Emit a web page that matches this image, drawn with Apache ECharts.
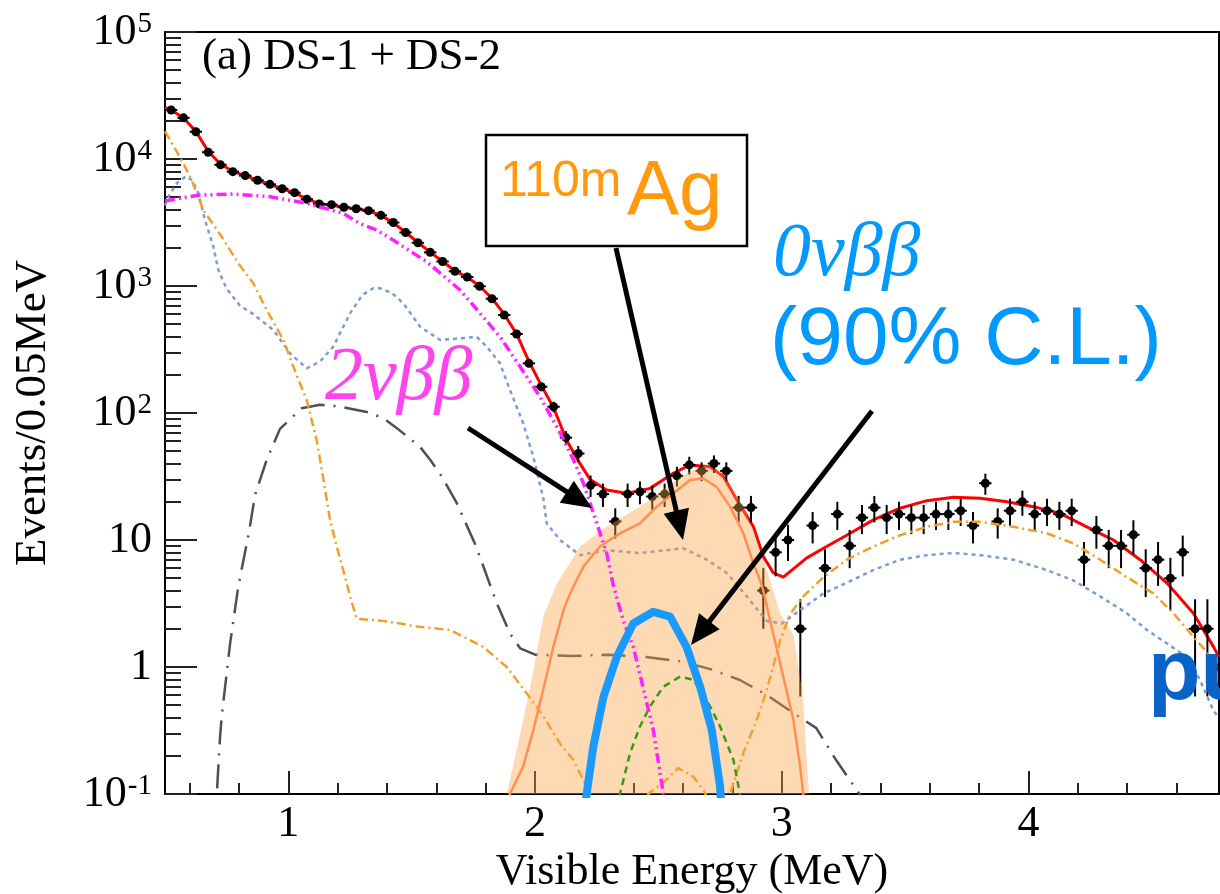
<!DOCTYPE html>
<html>
<head>
<meta charset="utf-8">
<script src="https://cdn.jsdelivr.net/npm/echarts@6/dist/echarts.min.js"></script>
<style>
  html, body { margin: 0; padding: 0; background: #fff; }
  #chart { width: 1220px; height: 894px; }
</style>
</head>
<body>
<div id="chart"></div>
<script>
// ---- axis ranges and tick positions ----
const X_MIN = 0.5, X_MAX = 4.772;
const Y_MIN = 0.1, Y_MAX = 1e5;
const xMajorTicks = [1, 2, 3, 4];
const xMinorTicks = [0.6, 0.8, 1.2, 1.4, 1.6, 1.8, 2.2, 2.4, 2.6, 2.8, 3.2, 3.4, 3.6, 3.8, 4.2, 4.4, 4.6];
const yMajorTicks = [0.1, 1, 10, 100, 1000, 10000, 100000];
const yMinorTicks = [];
for (let d = 0.1; d < 1e5 * 0.99; d *= 10) {
  for (let k = 2; k <= 9; k++) yMinorTicks.push(+(k * d).toPrecision(3));
}

// ---- measured spectrum: counts per 0.05 MeV bin, first bin starts at 0.5 MeV ----
const BIN_LO = 0.5, BIN_W = 0.05;
const dataCounts = [
  24300, 21100, 16400, 11300, 9000, 7950, 7400, 6800, 6320, 5830,
  5430, 4820, 4430, 4370, 4170, 4060, 3920, 3600, 3160, 2640,
  2190, 1840, 1560, 1306, 1177, 995, 794, 591, 419, 246,
  161, 112, 64, 48, 27, 23, 14, 23, 24, 22,
  23, 32, 39, 35, 40, 35, 18, 18, 4, 8,
  10, 2, 13, 6, 16, 9, 15, 18, 15, 16,
  15, 15, 16, 16, 17, 13, 28, 14, 17, 20,
  16, 17, 16, 17, 7, 12, 9, 9, 11, 6,
  7, 5, 8, 2, 2, 1
];

// ---- fit components: [energy (MeV), events / 0.05 MeV] ----
const totalFit = [[0.50,25400],[0.525,24300],[0.575,21000],[0.625,16500],[0.675,11500],[0.725,9100],[0.775,8000],[0.825,7400],[0.875,6800],[0.925,6300],[0.975,5850],[1.025,5400],[1.075,4850],[1.125,4450],[1.175,4350],[1.225,4150],[1.275,4050],[1.325,3900],[1.375,3600],[1.425,3150],[1.475,2650],[1.525,2200],[1.575,1850],[1.625,1560],[1.675,1320],[1.725,1170],[1.775,1000],[1.825,800],[1.875,600],[1.925,420],[1.975,255],[2.025,165],[2.075,110],[2.128,61],[2.175,42],[2.223,30],[2.29,24.8],[2.371,23.3],[2.466,25.5],[2.56,33.5],[2.628,39],[2.709,37.8],[2.763,31.6],[2.83,18.9],[2.885,12.7],[2.925,7.4],[2.966,5.5],[3.006,5.1],[3.1,7.2],[3.169,8.6],[3.263,10.9],[3.371,14.4],[3.479,17.8],[3.588,20.4],[3.696,21.7],[3.804,21.3],[3.912,20],[4.02,18.3],[4.128,16.2],[4.236,12.7],[4.344,10],[4.452,7.0],[4.56,4.6],[4.668,2.65],[4.75,1.44],[4.772,1.2]];

const twoNu = [[0.5,4670],[0.56,4900],[0.642,5200],[0.777,5300],[0.926,5050],[1.074,4480],[1.223,3730],[1.29,3100],[1.358,2760],[1.425,2300],[1.561,1550],[1.696,930],[1.777,610],[1.858,398],[1.939,232],[2.02,134],[2.101,70],[2.155,43],[2.196,28],[2.29,7.9],[2.317,4.4],[2.358,2.3],[2.398,1.44],[2.479,0.32],[2.52,0.1],[2.55,0.05]];

const blueBkg = [[0.5,4300],[0.52,5300],[0.55,6500],[0.585,7300],[0.61,6800],[0.635,5400],[0.662,3310],[0.696,2040],[0.716,1340],[0.75,950],[0.804,700],[0.858,600],[0.939,451],[1.007,295],[1.074,225],[1.128,254],[1.182,333],[1.25,609],[1.30,850],[1.344,959],[1.371,960],[1.42,880],[1.466,731],[1.534,478],[1.615,376],[1.696,387],[1.763,398],[1.804,333],[1.858,246],[1.898,152],[1.952,83],[1.993,45],[2.034,21],[2.047,13.5],[2.101,10],[2.182,7.6],[2.29,8.3],[2.425,7.9],[2.601,8.6],[2.696,7.0],[2.777,5.5],[2.858,3.6],[2.939,2.3],[3.0,2.2],[3.074,2.8],[3.169,3.8],[3.263,4.6],[3.371,5.8],[3.479,7.0],[3.588,7.6],[3.696,7.9],[3.804,7.6],[3.939,7.0],[4.074,5.8],[4.182,4.8],[4.29,3.6],[4.398,2.65],[4.479,1.96],[4.56,1.54],[4.641,1.2],[4.695,0.79],[4.75,0.45],[4.772,0.4]];

const orangeBkg = [[0.5,16500],[0.54,12100],[0.574,9250],[0.608,6840],[0.655,3970],[0.73,2440],[0.797,1510],[0.858,1050],[0.912,647],[0.98,376],[1.02,232],[1.074,127],[1.115,61],[1.142,30],[1.169,14.4],[1.196,8.9],[1.236,4.6],[1.25,3.6],[1.277,2.4],[1.385,2.3],[1.453,2.2],[1.52,2.08],[1.655,1.96],[1.79,1.44],[1.885,1.0],[1.966,0.62],[2.033,0.41],[2.101,0.25],[2.155,0.185],[2.209,0.114],[2.26,0.07],[2.40,0.06],[2.459,0.1],[2.533,0.13],[2.58,0.16],[2.641,0.137],[2.682,0.108],[2.73,0.07],[2.76,0.07],[2.79,0.1],[2.844,0.21],[2.898,0.38],[2.939,0.66],[2.993,1.6],[3.033,2.6],[3.087,3.6],[3.169,5.1],[3.263,7.0],[3.371,8.9],[3.479,10.9],[3.588,12.7],[3.696,13.9],[3.804,13.9],[3.939,12.7],[4.074,11.3],[4.182,9.4],[4.29,7.0],[4.398,5.1],[4.506,3.8],[4.587,2.65],[4.668,1.73],[4.75,1.14],[4.772,1.0]];

const greyBkg = [[0.70,0.05],[0.71,0.1],[0.723,0.28],[0.73,0.41],[0.764,1.54],[0.797,4.3],[0.84,11.4],[0.865,22.6],[0.912,42.6],[0.966,75],[1.054,109],[1.128,116],[1.2,113],[1.318,102],[1.385,91],[1.44,76],[1.534,54],[1.574,43],[1.62,32],[1.68,20],[1.76,9],[1.844,3.2],[1.898,1.84],[1.94,1.4],[2.0,1.25],[2.15,1.22],[2.3,1.25],[2.45,1.2],[2.6,1.1],[2.72,0.95],[2.83,0.79],[2.94,0.6],[3.05,0.43],[3.14,0.33],[3.22,0.185],[3.3,0.11],[3.35,0.08]];

const greenBkg = [[2.32,0.05],[2.344,0.1],[2.385,0.21],[2.425,0.34],[2.466,0.49],[2.52,0.7],[2.588,0.84],[2.642,0.79],[2.709,0.49],[2.75,0.34],[2.804,0.185],[2.83,0.1],[2.85,0.05]];

const zeroNuLimit = [[2.19,0.05],[2.209,0.1],[2.236,0.236],[2.277,0.58],[2.331,1.2],[2.398,2.2],[2.479,2.72],[2.547,2.49],[2.614,1.44],[2.669,0.7],[2.716,0.32],[2.75,0.114],[2.76,0.05]];

const agFit = [[1.88,0.05],[1.898,0.1],[1.952,0.165],[1.993,0.32],[2.033,0.66],[2.074,1.44],[2.115,2.8],[2.142,3.8],[2.196,6.2],[2.263,8.9],[2.344,11.3],[2.425,13.5],[2.493,18.3],[2.561,23.3],[2.628,29.7],[2.682,30.5],[2.736,26.2],[2.79,18.3],[2.844,11.3],[2.885,6.5],[2.912,4.8],[2.925,4.0],[2.953,2.3],[3.006,0.84],[3.047,0.38],[3.074,0.165],[3.087,0.1],[3.1,0.05]];

const agBand = [[1.87,0.05],[1.885,0.1],[1.92,0.2],[1.952,0.38],[1.993,0.94],[2.033,2.5],[2.088,4.5],[2.182,8.9],[2.29,12.7],[2.425,18.3],[2.533,26.2],[2.614,33.5],[2.696,39],[2.75,34.5],[2.83,20.6],[2.885,12],[2.939,5.8],[2.993,2.65],[3.047,1.8],[3.085,0.6],[3.1,0.2],[3.11,0.1],[3.12,0.05]];

// ---- styling ----
const SERIF = '"Liberation Serif", "Times New Roman", serif';
const SANS = '"Liberation Sans", Arial, sans-serif';
const AXIS_LINE = { color: '#000', width: 2 };
const TICK_LINE = { color: '#222', width: 2 };

const dataPoints = dataCounts.map((n, i) => [BIN_LO + BIN_W * (i + 0.5), n]);

function curve(name, data, color, width, type, z) {
  return {
    type: 'line', name, data, z,
    symbol: 'none', showSymbol: false, clip: true, silent: true,
    lineStyle: { color, width, type, cap: 'butt', join: 'round' }
  };
}

function yLabel(v) {
  const e = Math.round(Math.log10(v));
  if (e === 0) return '{b|1}';
  if (e === 1) return '{b|10}';
  return '{b|10}{s|' + e + '}';
}

// annotation arrow: straight shaft with a filled triangular head
function arrow(x1, y1, x2, y2) {
  const len = 30, half = 13;
  const dx = x2 - x1, dy = y2 - y1, L = Math.hypot(dx, dy);
  const ux = dx / L, uy = dy / L;
  const bx = x2 - ux * len, by = y2 - uy * len;
  return {
    type: 'group', z: 100,
    children: [
      { type: 'line', z: 100, shape: { x1, y1, x2: bx + ux * 2, y2: by + uy * 2 }, style: { stroke: '#000', lineWidth: 5 } },
      { type: 'polygon', z: 100, shape: { points: [[x2, y2], [bx - uy * half, by + ux * half], [bx + uy * half, by - ux * half]] }, style: { fill: '#000' } }
    ]
  };
}

const chart = echarts.init(document.getElementById('chart'), null, { renderer: 'canvas' });

chart.setOption({
  animation: false,
  backgroundColor: '#fff',
  grid: { left: 165, right: 1, top: 32, bottom: 100, containLabel: false, outerBoundsMode: 'none' },
  xAxis: [
    {
      type: 'value', min: X_MIN, max: X_MAX, position: 'bottom',
      name: 'Visible Energy (MeV)', nameLocation: 'middle', nameGap: 54,
      nameTextStyle: { fontFamily: SERIF, fontSize: 44, color: '#000' },
      axisLine: { show: true, onZero: false, lineStyle: AXIS_LINE },
      axisTick: { show: true, inside: true, length: 23, customValues: xMajorTicks, lineStyle: TICK_LINE },
      axisLabel: { show: true, customValues: xMajorTicks, fontFamily: SERIF, fontSize: 44, color: '#000', margin: 8 },
      splitLine: { show: false }
    },
    {
      type: 'value', min: X_MIN, max: X_MAX, position: 'bottom',
      axisLine: { show: false },
      axisTick: { show: true, inside: true, length: 11, customValues: xMinorTicks, lineStyle: TICK_LINE },
      axisLabel: { show: false }, splitLine: { show: false }
    },
    {
      type: 'value', min: X_MIN, max: X_MAX, position: 'top',
      axisLine: { show: true, onZero: false, lineStyle: AXIS_LINE },
      axisTick: { show: false }, axisLabel: { show: false }, splitLine: { show: false }
    }
  ],
  yAxis: [
    {
      type: 'log', logBase: 10, min: Y_MIN, max: Y_MAX, position: 'left',
      name: 'Events/0.05MeV', nameLocation: 'middle', nameGap: 109,
      nameTextStyle: { fontFamily: SERIF, fontSize: 45, color: '#000' },
      axisLine: { show: true, onZero: false, lineStyle: AXIS_LINE },
      axisTick: { show: true, inside: true, length: 32, customValues: yMajorTicks, lineStyle: TICK_LINE },
      axisLabel: {
        show: true, customValues: yMajorTicks, margin: 13, formatter: yLabel,
        rich: {
          b: { fontFamily: SERIF, fontSize: 44, color: '#000', lineHeight: 44 },
          s: { fontFamily: SERIF, fontSize: 29, color: '#000', lineHeight: 44, verticalAlign: 'top', padding: [0, 0, 0, 1] }
        }
      },
      splitLine: { show: false }
    },
    {
      type: 'log', logBase: 10, min: Y_MIN, max: Y_MAX, position: 'left',
      axisLine: { show: false },
      axisTick: { show: true, inside: true, length: 16, customValues: yMinorTicks, lineStyle: TICK_LINE },
      axisLabel: { show: false }, splitLine: { show: false }
    },
    {
      type: 'log', logBase: 10, min: Y_MIN, max: Y_MAX, position: 'right',
      axisLine: { show: true, onZero: false, lineStyle: AXIS_LINE },
      axisTick: { show: false }, axisLabel: { show: false }, splitLine: { show: false }
    }
  ],
  series: [
    curve('total', totalFit, '#ff0000', 3, 'solid', 2),
    {
      type: 'custom', name: 'data', data: dataPoints, z: 3, clip: true, silent: true,
      encode: { x: 0, y: 1 },
      renderItem: function (params, api) {
        const x = api.value(0), n = api.value(1);
        const s = Math.sqrt(n);
        const cs = params.coordSys;
        const bottom = cs.y + cs.height;
        const c = api.coord([x, n]);
        const hi = api.coord([x, n + s]);
        let lo = n - s > 0 ? api.coord([x, n - s])[1] : bottom;
        lo = Math.min(lo, bottom);
        const l = api.coord([x - BIN_W / 2, n]);
        const r = api.coord([x + BIN_W / 2, n]);
        return {
          type: 'group',
          children: [
            { type: 'line', shape: { x1: c[0], y1: hi[1], x2: c[0], y2: lo }, style: { stroke: '#000', lineWidth: 2 } },
            { type: 'line', shape: { x1: l[0], y1: c[1], x2: r[0], y2: c[1] }, style: { stroke: '#000', lineWidth: 2 } },
            { type: 'circle', shape: { cx: c[0], cy: c[1], r: 4.5 }, style: { fill: '#000' } }
          ]
        };
      }
    },
    curve('grey', greyBkg, '#505050', 2.5, [24, 9, 2, 9], 4),
    curve('blue', blueBkg, '#7f9bd3', 2.5, [4, 4], 4),
    curve('orange', orangeBkg, '#f0a028', 2.5, [9, 4, 2, 4], 4),
    {
      type: 'line', name: '110mAg band', data: agBand, z: 5,
      symbol: 'none', showSymbol: false, clip: true, silent: true,
      lineStyle: { width: 0 },
      areaStyle: { color: 'rgba(250,163,68,0.4)', origin: 'start', opacity: 1 }
    },
    curve('110mAg', agFit, '#ff8f55', 2.5, 'solid', 6),
    curve('green', greenBkg, '#3a9a10', 2.5, [7, 5], 6),
    curve('2nu', twoNu, '#ff22ff', 3.5, [10, 4, 2, 4, 2, 4], 7),
    curve('0nu', zeroNuLimit, '#1a9aff', 8, 'solid', 8)
  ],
  graphic: [
    { type: 'text', z: 100, style: { text: '(a) DS-1 + DS-2', x: 202, y: 57, fontFamily: SERIF, fontSize: 45, fill: '#000', verticalAlign: 'middle' } },
    { type: 'rect', z: 100, shape: { x: 486, y: 135, width: 261, height: 111 }, style: { fill: '#fff', stroke: '#000', lineWidth: 2.5 } },
    { type: 'text', z: 101, style: { text: '110m', x: 500, y: 182, fontFamily: SANS, fontSize: 50, fill: '#ff9a10', verticalAlign: 'middle' } },
    { type: 'text', z: 101, style: { text: 'Ag', x: 627, y: 193, fontFamily: SANS, fontSize: 78, fill: '#ff9a10', verticalAlign: 'middle' } },
    { type: 'text', z: 100, style: { text: '0νββ', x: 773, y: 255, fontFamily: SERIF, fontStyle: 'italic', fontSize: 76, fill: '#0099ff', verticalAlign: 'middle' } },
    { type: 'text', z: 100, style: { text: '(90% C.L.)', x: 770, y: 341, fontFamily: SANS, fontSize: 82, fill: '#0099ff', verticalAlign: 'middle' } },
    { type: 'text', z: 100, style: { text: '2νββ', x: 325, y: 379, fontFamily: SERIF, fontStyle: 'italic', fontSize: 76, fill: '#ff44ee', verticalAlign: 'middle' } },
    { type: 'text', z: 100, style: { text: 'pu', x: 1148, y: 675, fontFamily: SANS, fontWeight: 'bold', fontSize: 86, fill: '#0a64c8', verticalAlign: 'middle' } },
    arrow(468, 428, 592, 508),
    arrow(616, 248, 683, 540),
    arrow(872, 411, 691, 645)
  ]
});
</script>
</body>
</html>
